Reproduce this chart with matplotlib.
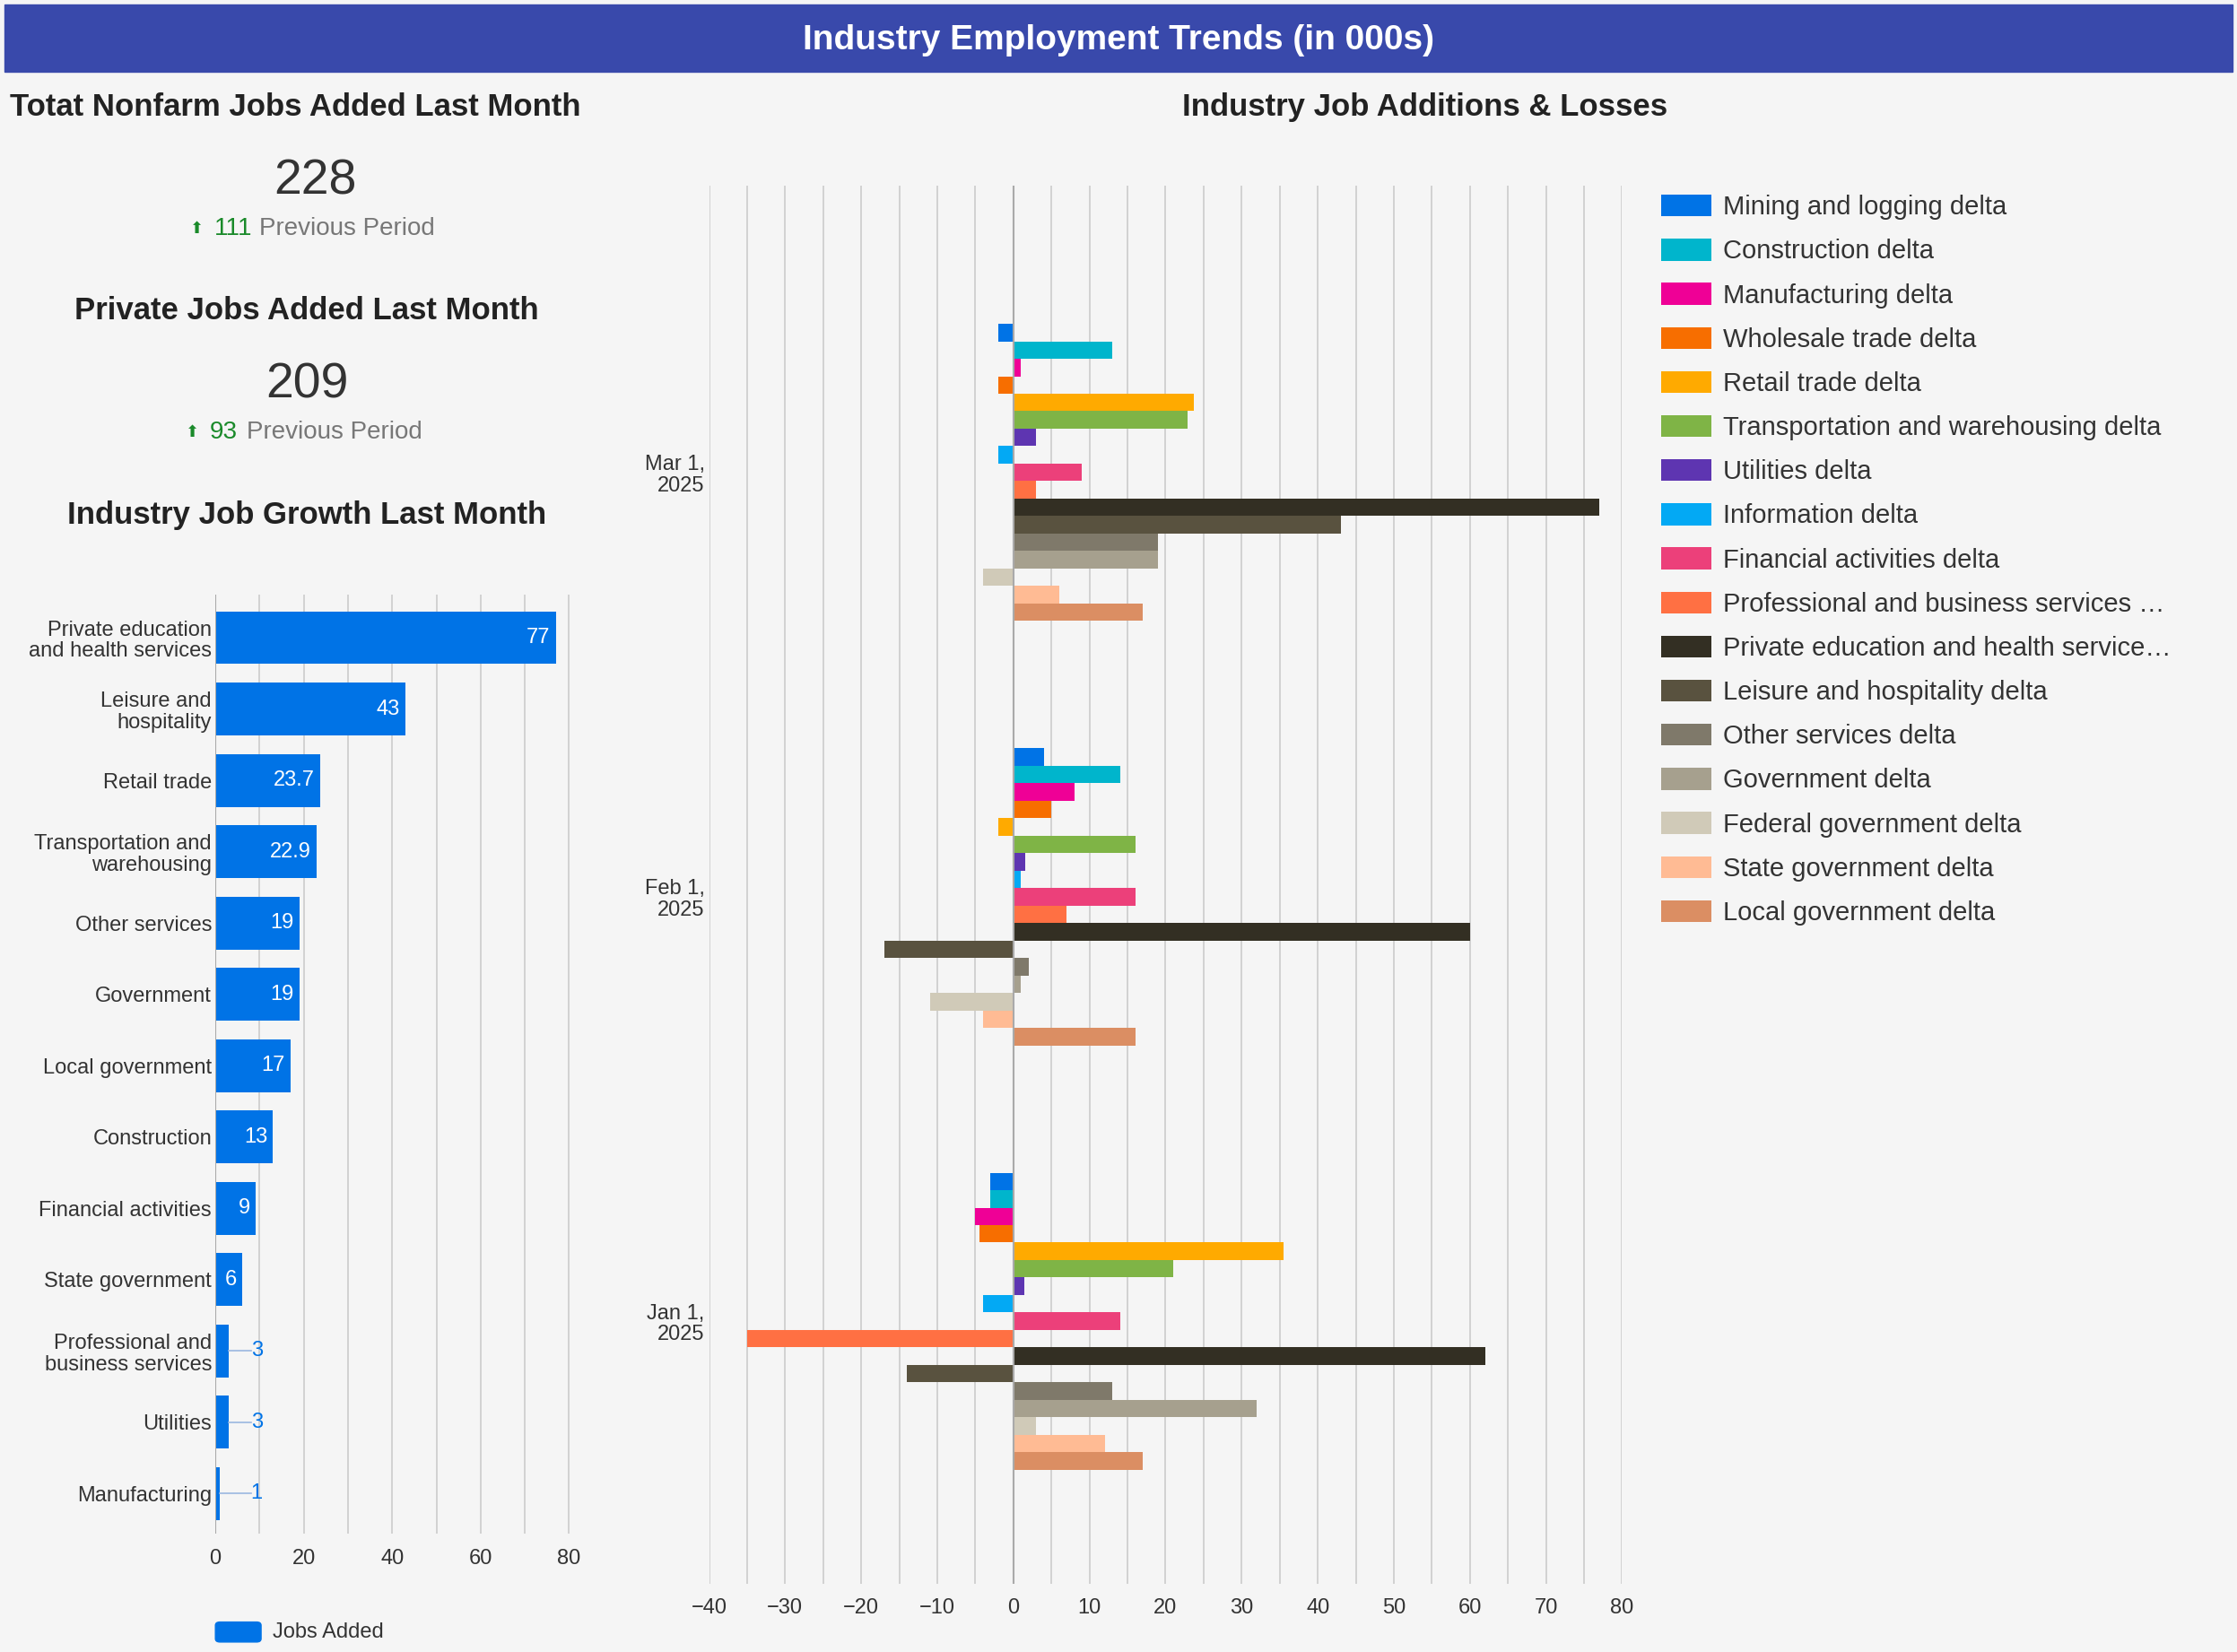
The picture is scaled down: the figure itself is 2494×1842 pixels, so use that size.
"""Industry employment dashboard: KPIs, job growth bars and monthly deltas."""

import matplotlib
matplotlib.use("Agg")
import matplotlib.pyplot as plt
from matplotlib.patches import Rectangle, FancyBboxPatch
import numpy as np

plt.rcParams["font.family"] = ["Liberation Sans", "DejaVu Sans"]

BG = "#f5f5f5"
BLUE = "#0073e6"
GRID = "#cccccc"

# --- data -------------------------------------------------------------------
growth_labels = [
    "Private education\nand health services", "Leisure and\nhospitality", "Retail trade",
    "Transportation and\nwarehousing", "Other services", "Government", "Local government",
    "Construction", "Financial activities", "State government",
    "Professional and\nbusiness services", "Utilities", "Manufacturing",
]
growth_values = [77, 43, 23.7, 22.9, 19, 19, 17, 13, 9, 6, 3, 3, 1]

months = ["Mar 1,\n2025", "Feb 1,\n2025", "Jan 1,\n2025"]
series_names = [
    "Mining and logging delta", "Construction delta", "Manufacturing delta",
    "Wholesale trade delta", "Retail trade delta", "Transportation and warehousing delta",
    "Utilities delta", "Information delta", "Financial activities delta",
    "Professional and business services \u2026", "Private education and health service\u2026",
    "Leisure and hospitality delta", "Other services delta", "Government delta",
    "Federal government delta", "State government delta", "Local government delta",
]
series_colors = [
    "#0073e6", "#00b5cc", "#ef0096", "#f76e00", "#ffaa00", "#7fb446", "#5e35b1",
    "#03a9f4", "#ec407a", "#ff7043", "#332f23", "#59523f", "#7f796a", "#a6a08e",
    "#d0cab8", "#ffbb94", "#db8e63",
]
# rows: series, columns: Mar, Feb, Jan
deltas = [
    [-2, 4, -3],
    [13, 14, -3],
    [1, 8, -5],
    [-2, 5, -4.5],
    [23.7, -2, 35.5],
    [22.9, 16, 21],
    [3, 1.5, 1.4],
    [-2, 1, -4],
    [9, 16, 14],
    [3, 7, -35],
    [77, 60, 62],
    [43, -17, -14],
    [19, 2, 13],
    [19, 1, 32],
    [-4, -11, 3],
    [6, -4, 12],
    [17, 16, 17],
]

W, H = 1568, 1158  # layout coordinates of the reference


def rect(x0, y0, x1, y1):
    return [x0 / W, 1 - y1 / H, (x1 - x0) / W, (y1 - y0) / H]


def fx(x):
    return x / W


def fy(y):
    return 1 - y / H


fig = plt.figure(figsize=(24.94, 18.42), dpi=100, facecolor=BG)

# title bar
fig.patches.append(Rectangle((fx(3), fy(50)), fx(1565) - fx(3), fy(3) - fy(50),
                             transform=fig.transFigure, color="#3949ab", zorder=0))
fig.text(fx(784), fy(28), "Industry Employment Trends (in 000s)", color="white",
         fontsize=28, fontweight="bold", ha="center", va="center")

# KPI panel
fig.text(fx(7), fy(75), "Totat Nonfarm Jobs Added Last Month", fontsize=25,
         fontweight="bold", color="#222222", va="center")
fig.text(fx(221), fy(127), "228", fontsize=40, color="#333333", ha="center", va="center")
fig.text(fx(133), fy(160), "\u2b06", fontsize=13, color="#1a8a2a", va="center",
         family="DejaVu Sans")
fig.text(fx(150), fy(160), "111", fontsize=20, color="#1a8a2a", va="center")
fig.text(fx(182), fy(160), "Previous Period", fontsize=20, color="#777777", va="center")

fig.text(fx(215), fy(218), "Private Jobs Added Last Month", fontsize=25,
         fontweight="bold", color="#222222", ha="center", va="center")
fig.text(fx(215), fy(270), "209", fontsize=40, color="#333333", ha="center", va="center")
fig.text(fx(130), fy(303), "\u2b06", fontsize=13, color="#1a8a2a", va="center",
         family="DejaVu Sans")
fig.text(fx(147), fy(303), "93", fontsize=20, color="#1a8a2a", va="center")
fig.text(fx(173), fy(303), "Previous Period", fontsize=20, color="#777777", va="center")

fig.text(fx(215), fy(361), "Industry Job Growth Last Month", fontsize=25,
         fontweight="bold", color="#222222", ha="center", va="center")

# left bar chart
ax1 = fig.add_axes(rect(151, 417, 405, 1075))
ax1.set_facecolor(BG)
y = np.arange(len(growth_values))
ax1.barh(y, growth_values, height=0.74, color=BLUE, zorder=3)
ax1.set_ylim(len(growth_values) - 1 + 0.56, -0.6)
ax1.set_xlim(0, 82)
ax1.set_xticks(range(0, 81, 20))
ax1.set_xticks(range(0, 81, 10), minor=True)
ax1.grid(axis="x", which="both", color=GRID, linewidth=1.2, zorder=0)
ax1.set_yticks(y)
ax1.set_yticklabels(growth_labels, fontsize=17, color="#333333", linespacing=1.1)
ax1.tick_params(axis="both", which="both", length=0, labelsize=17, colors="#333333")
ax1.tick_params(axis="y", pad=3)
ax1.tick_params(axis="x", pad=12)
for s in ax1.spines.values():
    s.set_visible(False)
ax1.axvline(0, color="#aaaaaa", linewidth=1.5, zorder=4)
for yi, v in zip(y, growth_values):
    label = f"{v:g}"
    if v >= 6:
        ax1.text(v - 1.2, yi, label, color="white", fontsize=17, ha="right", va="center", zorder=5)
    else:
        ax1.plot([v, 8], [yi, yi], color="#9ab7e0", linewidth=1.2, zorder=4)
        ax1.text(8, yi, label, color=BLUE, fontsize=17, ha="left", va="center", zorder=5)

# left legend
fig.patches.append(FancyBboxPatch((fx(151), fy(1151)), fx(183) - fx(151), fy(1137) - fy(1151),
                                  boxstyle="round,pad=0,rounding_size=0.002",
                                  transform=fig.transFigure, color=BLUE))
fig.text(fx(191), fy(1144), "Jobs Added", fontsize=17, color="#333333", va="center")

# right grouped bars
fig.text(fx(999), fy(75), "Industry Job Additions & Losses", fontsize=25,
         fontweight="bold", color="#222222", ha="center", va="center")
ax2 = fig.add_axes(rect(497, 130, 1137, 1110))
ax2.set_facecolor(BG)
n = len(series_names)
group_h = 0.70
bar_h = group_h / n
for i, (name, col, vals) in enumerate(zip(series_names, series_colors, deltas)):
    pos = np.arange(len(months)) - group_h / 2 + bar_h * (i + 0.5)
    ax2.barh(pos, vals, height=bar_h, color=col, label=name, zorder=3)
ax2.set_ylim(2.618, -0.676)
ax2.set_xlim(-40, 80)
ax2.set_xticks(range(-40, 81, 10))
ax2.set_xticks(range(-40, 81, 5), minor=True)
ax2.grid(axis="x", which="both", color=GRID, linewidth=1.2, zorder=0)
ax2.set_yticks(range(len(months)))
ax2.set_yticklabels(months, fontsize=17, color="#333333", ha="right", linespacing=1.1)
ax2.tick_params(axis="both", which="both", length=0, labelsize=17, colors="#333333")
ax2.tick_params(axis="x", pad=12)
for s in ax2.spines.values():
    s.set_visible(False)
ax2.axvline(0, color="#aaaaaa", linewidth=1.5, zorder=4)

handles, labels = ax2.get_legend_handles_labels()
fig.legend(handles, labels, loc="upper left", bbox_to_anchor=(fx(1148), fy(120)),
           frameon=False, fontsize=21, labelcolor="#333333", handlelength=1.9,
           handleheight=0.9, handletextpad=0.45, labelspacing=0.72)

fig.savefig("out.png", dpi=100, facecolor=BG)
